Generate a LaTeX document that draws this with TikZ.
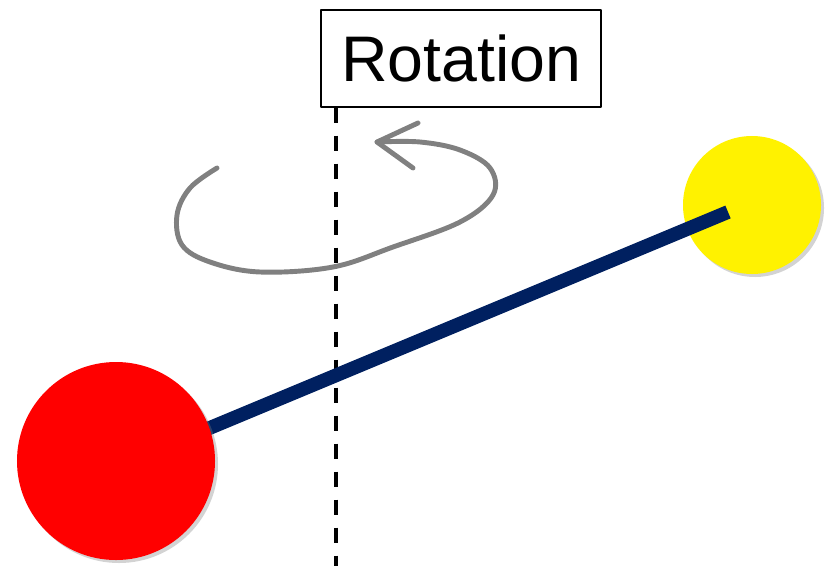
\documentclass[tikz,border=0pt]{standalone}
\usepackage{fontspec}
\setmainfont{Liberation Sans}
\usetikzlibrary{shadows}
\definecolor{rodblue}{RGB}{0,32,96}
\definecolor{spingray}{RGB}{128,128,128}
\begin{document}
\begin{tikzpicture}[x=0.03cm,y=-0.03cm,line cap=round,line join=round]
					\useasboundingbox (0,0) rectangle (825,566);
					\tikzset{ball/.style={circle,inner sep=0pt,draw=none,drop shadow={opacity=0.35,shadow xshift=0.09cm,shadow yshift=-0.09cm}},
						label box/.style={draw,line width=1.1pt,minimum width=8.4cm,minimum height=2.91cm,inner sep=0pt,font=\fontsize{55}{60}\selectfont}}
					\node[label box] (rot) at (461,58.5) {Rotation};
					\coordinate (axis) at (336,566);
					\draw[line width=3pt,line cap=butt,dash pattern=on 12.8pt off 11.1pt] (axis |- rot.south) -- (axis);
					\coordinate (hub) at (116,467);
					\coordinate (tip) at (728,212);
					\node[ball,fill=yellow,minimum size=4.14cm] (small) at (752,205) {};
					\draw[rodblue,line width=11.8pt,line cap=butt] (hub) -- (tip);
					\node[ball,fill=red,minimum size=5.94cm] (big) at (116,461) {};
					% hand drawn spin arrow
					\draw[spingray,line width=4.2pt] plot[smooth,tension=0.6] coordinates {(217,168) (190,188) (177,215) (182,245) (210,262) (260,272) (333,267) (393,247) (460,222) (493,195) (490,168) (460,150) (420,142) (377,142)};
					\draw[spingray,line width=4.2pt] (418,123) -- (377,142) -- (413,168);
				\end{tikzpicture}
\end{document}
